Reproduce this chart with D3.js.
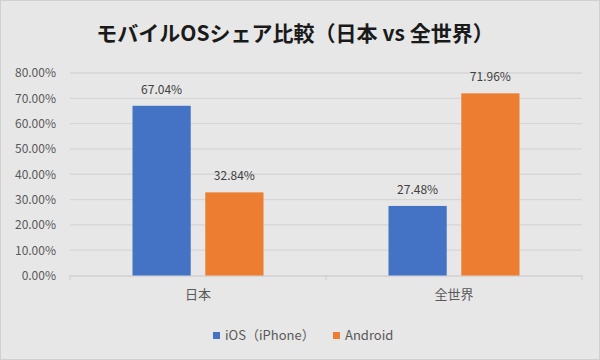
<!DOCTYPE html>
<html>
<head>
<meta charset="utf-8">
<script src="https://cdn.jsdelivr.net/npm/d3@7"></script>
<style>
  body { margin: 0; background: #fff; }
  svg text { font-family: "Noto Sans CJK JP", "Noto Sans", sans-serif; }
</style>
</head>
<body>
<svg id="chart" width="600" height="360"></svg>
<script>
// chart data
var categories = ["日本", "全世界"];
var seriesNames = ["iOS（iPhone）", "Android"];
var iosValues = [67.04, 27.48];
var androidValues = [32.84, 71.96];
var yTicks = [0, 10, 20, 30, 40, 50, 60, 70, 80];
var colors = ["#4472c4", "#ed7d31"];

var svg = d3.select("#chart");
var margin = {top: 73, left: 70, right: 18, bottom: 84.5};
var width = 600 - margin.left - margin.right;
var height = 360 - margin.top - margin.bottom;

// background + border
svg.append("rect")
  .attr("x", 0.5).attr("y", 0.5)
  .attr("width", 599).attr("height", 359)
  .attr("fill", "#e7e7e7")
  .attr("stroke", "#d0d0d0");

// title
svg.append("text")
  .attr("x", 295)
  .attr("y", 41)
  .attr("text-anchor", "middle")
  .style("font-size", "21px")
  .style("font-weight", "bold")
  .attr("fill", "#1a1a1a")
  .text("モバイルOSシェア比較（日本 vs 全世界）");

var g = svg.append("g")
  .attr("transform", "translate(" + margin.left + "," + margin.top + ")");

var y = d3.scaleLinear().domain([0, 80]).range([height, 0]);
var x0 = d3.scaleBand().domain(categories).range([0, width]);
var x1 = d3.scaleBand().domain(seriesNames).range([0, 131]).paddingInner(0.2);

// grid lines
g.append("g")
  .attr("class", "ygrid")
  .selectAll("line")
  .data(yTicks.filter(function(d) { return d > 0; }))
  .enter().append("line")
  .attr("x1", 0).attr("x2", width)
  .attr("y1", function(d) { return y(d); })
  .attr("y2", function(d) { return y(d); })
  .attr("stroke", "#d6d6d6")
  .attr("stroke-width", 1.3);

// y axis labels
var yAxis = d3.axisLeft(y)
  .tickValues(yTicks)
  .tickSize(0)
  .tickPadding(14)
  .tickFormat(function(d) { return d.toFixed(2) + "%"; });
var ya = g.append("g").attr("class", "yaxis").call(yAxis);
ya.select(".domain").remove();
ya.selectAll("text")
  .style("font-size", "12px")
  .attr("fill", "#595959");

// x axis
var xAxis = d3.axisBottom(x0).tickSize(0).tickPadding(14);
var xa = g.append("g")
  .attr("class", "xaxis")
  .attr("transform", "translate(0," + height + ")")
  .call(xAxis);
xa.select(".domain").attr("stroke", "#d0d0d0").attr("stroke-width", 1.3);
xa.selectAll("text")
  .style("font-size", "13px")
  .attr("fill", "#595959");
// category separator ticks
xa.selectAll(".sep")
  .data([0, 1, 2])
  .enter().append("line")
  .attr("x1", function(d) { return d * x0.step(); })
  .attr("x2", function(d) { return d * x0.step(); })
  .attr("y1", 0).attr("y2", 5)
  .attr("stroke", "#d0d0d0")
  .attr("stroke-width", 1.3);

// bars
var rows = categories.map(function(c, i) {
  return {cat: c, vals: [iosValues[i], androidValues[i]]};
});
var groups = g.append("g").attr("class", "data")
  .selectAll(".grp")
  .data(rows)
  .enter().append("g")
  .attr("transform", function(d) {
    return "translate(" + (x0(d.cat) + (x0.bandwidth() - 131) / 2) + ",0)";
  });

groups.selectAll("rect")
  .data(function(d) { return d.vals.map(function(v, j) { return {s: seriesNames[j], v: v, j: j}; }); })
  .enter().append("rect")
  .attr("x", function(d) { return x1(d.s); })
  .attr("y", function(d) { return y(d.v); })
  .attr("width", x1.bandwidth())
  .attr("height", function(d) { return height - y(d.v); })
  .attr("fill", function(d) { return colors[d.j]; });

groups.selectAll(".lbl")
  .data(function(d) { return d.vals.map(function(v, j) { return {s: seriesNames[j], v: v}; }); })
  .enter().append("text")
  .attr("class", "lbl")
  .attr("x", function(d) { return x1(d.s) + x1.bandwidth() / 2; })
  .attr("y", function(d) { return y(d.v) - 12; })
  .attr("text-anchor", "middle")
  .style("font-size", "12px")
  .attr("fill", "#404040")
  .text(function(d) { return d.v.toFixed(2) + "%"; });

// legend
var legendX = [213, 333];
var legend = svg.append("g").attr("class", "legend")
  .selectAll("g")
  .data(seriesNames)
  .enter().append("g")
  .attr("transform", function(d, i) { return "translate(" + legendX[i] + ",332)"; });
legend.append("rect")
  .attr("width", 7).attr("height", 7)
  .attr("fill", function(d, i) { return colors[i]; });
legend.append("text")
  .attr("x", 12)
  .attr("y", 7.5)
  .style("font-size", "13px")
  .attr("fill", "#595959")
  .text(function(d) { return d; });
</script>
</body>
</html>
